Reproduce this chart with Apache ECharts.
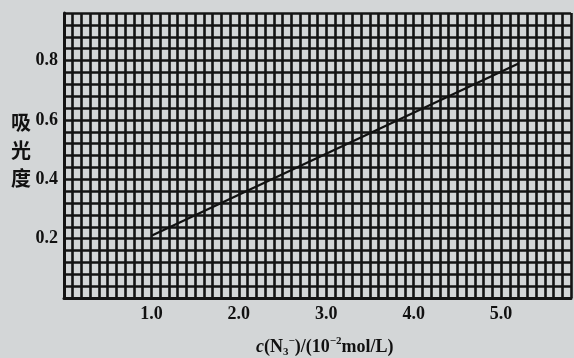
<!DOCTYPE html>
<html>
<head>
<meta charset="utf-8">
<script src="https://cdn.jsdelivr.net/npm/echarts@6/dist/echarts.min.js"></script>
<style>
html,body{margin:0;padding:0;background:#d3d6d7;}
#chart{width:574px;height:358px;}
</style>
</head>
<body>
<div id="chart"></div>
<script>
// Data
const lineX = [1.0, 5.2];
const lineY = [0.21, 0.79];
const xTickLabels = ['1.0', '2.0', '3.0', '4.0', '5.0'];
const yTickLabels = ['0.2', '0.4', '0.6', '0.8'];
const yTitle = ['吸', '光', '度'];

const chart = echarts.init(document.getElementById('chart'));
const serif = '"Liberation Serif", "DejaVu Serif", serif';
const gridColor = '#141414';

function pickLabel(list) {
  return function (v) {
    for (const s of list) {
      if (Math.abs(parseFloat(s) - v) < 1e-6) return s;
    }
    return '';
  };
}

const option = {
  backgroundColor: '#d3d6d7',
  animation: false,
  grid: { left: 64, right: 2, top: 13, bottom: 60 },
  xAxis: {
    type: 'value', min: 0, max: 5.8, interval: 0.1,
    axisLine: { show: true, onZero: false, lineStyle: { color: gridColor, width: 3 } },
    axisTick: { show: false },
    splitLine: { show: true, lineStyle: { color: gridColor, width: 2.6 } },
    axisLabel: {
      show: true, margin: 7, formatter: pickLabel(xTickLabels),
      fontFamily: serif, fontWeight: 'bold', fontSize: 18, color: '#111',
      showMinLabel: true, showMaxLabel: true, hideOverlap: false, interval: 0
    }
  },
  yAxis: {
    type: 'value', min: 0, max: 0.96, interval: 0.04,
    axisLine: { show: true, onZero: false, lineStyle: { color: gridColor, width: 3 } },
    axisTick: { show: false },
    splitLine: { show: true, lineStyle: { color: gridColor, width: 2.6 } },
    axisLabel: {
      show: true, margin: 6, formatter: pickLabel(yTickLabels),
      fontFamily: serif, fontWeight: 'bold', fontSize: 18, color: '#111',
      showMinLabel: true, showMaxLabel: true, hideOverlap: false, interval: 0
    }
  },
  series: [{
    type: 'line',
    data: lineX.map((x, i) => [x, lineY[i]]),
    showSymbol: false,
    lineStyle: { color: '#111', width: 2.2 },
    z: 5
  }],
  graphic: [
    {
      type: 'text', left: 11, top: 108,
      style: {
        text: yTitle.join('\n'), fill: '#111',
        font: 'bold 20px "Noto Sans CJK SC", sans-serif',
        lineHeight: 28, align: 'left'
      }
    },
    {
      type: 'text', left: 256, top: 336,
      style: {
        text: '{i|c}{t|(N}{sb|3}{sp|−}{t|)/(10}{sp|−2}{t|mol/L)}',
        fill: '#111',
        rich: {
          i: { fontFamily: serif, fontStyle: 'italic', fontWeight: 'bold', fontSize: 18, lineHeight: 22, verticalAlign: 'middle', fill: '#111' },
          t: { fontFamily: serif, fontWeight: 'bold', fontSize: 18, lineHeight: 22, verticalAlign: 'middle', fill: '#111' },
          sb: { fontFamily: serif, fontWeight: 'bold', fontSize: 11, lineHeight: 22, verticalAlign: 'bottom', fill: '#111' },
          sp: { fontFamily: serif, fontWeight: 'bold', fontSize: 11, lineHeight: 22, verticalAlign: 'top', fill: '#111' }
        }
      }
    }
  ]
};
chart.setOption(option);
</script>
</body>
</html>
